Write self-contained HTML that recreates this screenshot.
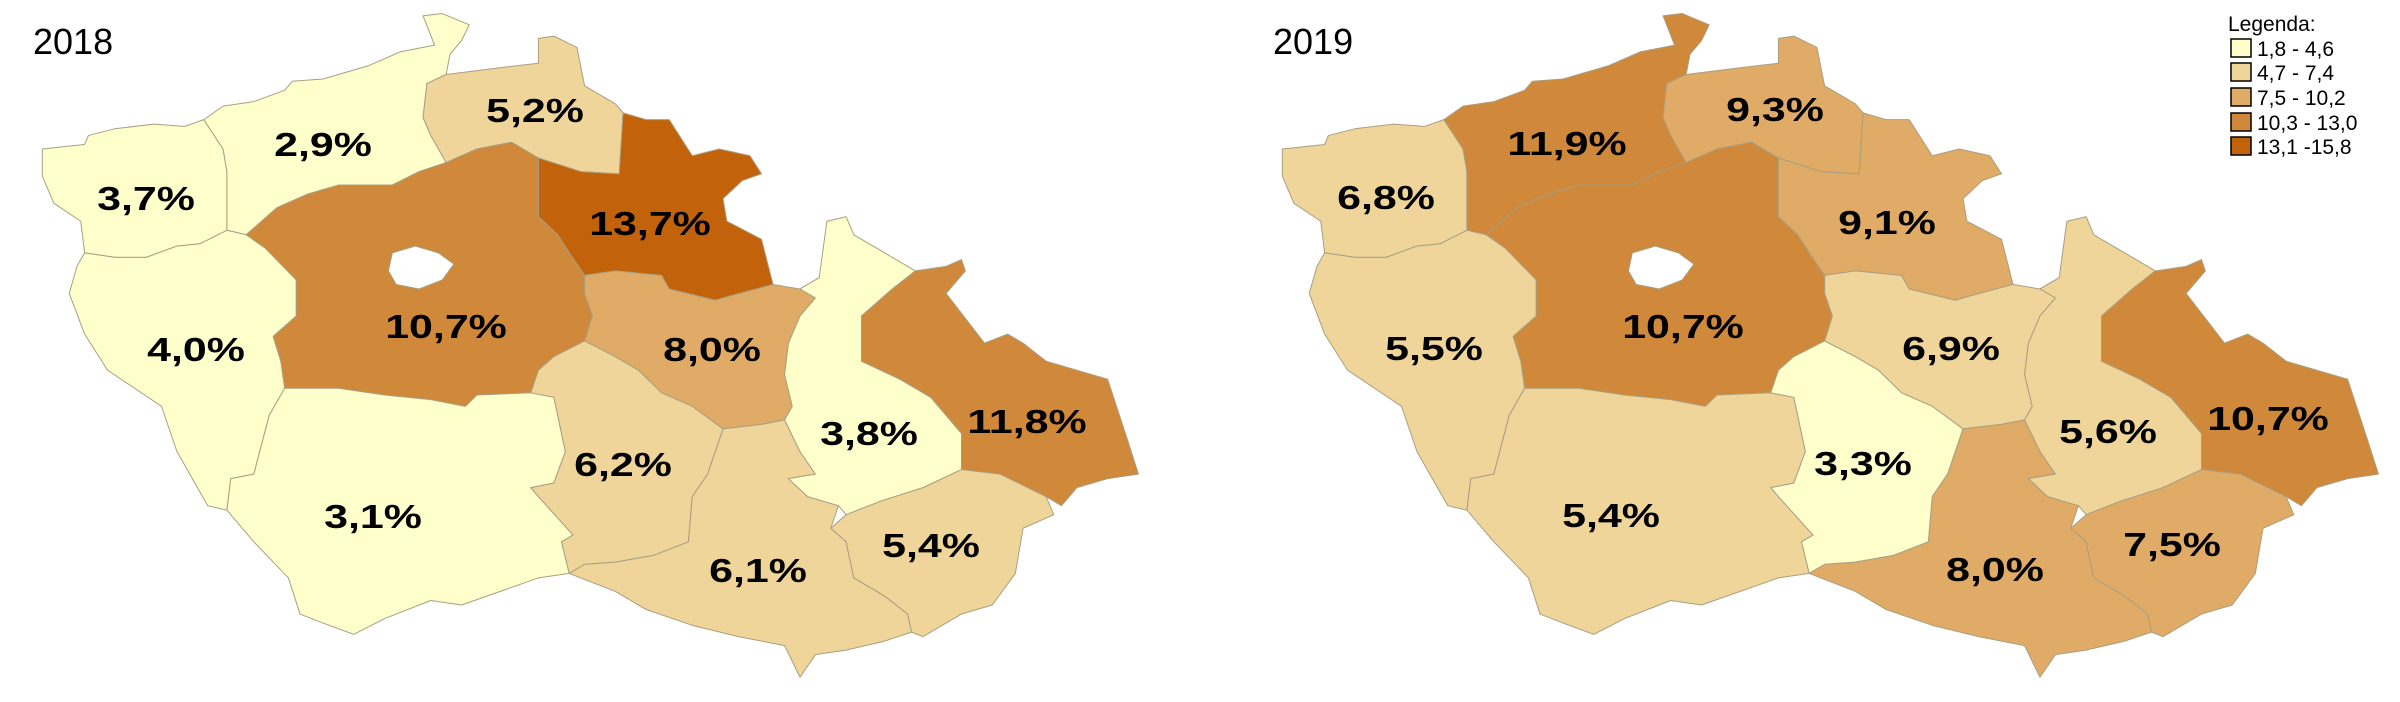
<!DOCTYPE html>
<html><head><meta charset="utf-8"><style>
html,body{margin:0;padding:0;background:#fff;}
svg{display:block;}
.l{font-family:"Liberation Sans",Arial,sans-serif;font-weight:bold;font-size:33px;fill:#000;text-anchor:middle;dominant-baseline:central;}
.t{font-family:"Liberation Sans",Arial,sans-serif;font-size:36px;fill:#000;}
.g{font-family:"Liberation Sans",Arial,sans-serif;font-size:21px;fill:#000;}
path,polygon{stroke:#a89f80;stroke-width:1;vector-effect:non-scaling-stroke;stroke-linejoin:round;}
</style></head><body>
<svg width="2400" height="702" viewBox="0 0 2400 702" xmlns="http://www.w3.org/2000/svg">
<defs>
<g id="kv"><polygon points="55,330 110,320 115,300 150,285 200,275 240,280 265,265 290,330 295,380 295,510 260,540 230,545 190,570 150,570 110,560 105,490 70,450 55,390"/></g>
<g id="us"><polygon points="265,265 290,235 330,225 370,200 380,180 420,175 480,145 520,115 565,100 550,35 575,30 610,55 600,90 585,120 580,165 555,185 550,260 560,300 580,360 545,380 510,410 440,410 400,430 360,460 320,520 295,510 295,380 290,330"/></g>
<g id="lb"><polygon points="555,185 580,165 650,150 700,140 700,85 720,80 750,105 760,190 800,230 810,250 805,385 755,380 700,350 665,315 620,330 580,360 560,300 550,260"/></g>
<g id="hk"><polygon points="810,250 840,265 870,265 900,345 935,330 975,345 990,385 965,400 940,440 945,490 990,530 1005,630 950,655 930,665 870,640 860,610 800,600 760,610 740,560 725,520 700,480 700,350 755,380 805,385"/></g>
<g id="pa"><polygon points="760,610 800,600 860,610 870,640 930,665 950,655 1005,630 1040,640 1065,615 1060,660 1040,700 1025,760 1020,830 1030,900 1020,930 990,940 940,950 900,900 860,870 830,820 800,790 760,755 770,700 760,650"/></g>
<g id="sc"><path fill-rule="evenodd" d="M320,520 L360,460 400,430 440,410 510,410 545,380 580,360 620,330 665,315 700,350 700,480 725,520 740,560 760,610 760,650 770,700 760,755 720,790 700,820 690,870 620,875 605,900 560,885 500,875 440,860 370,860 365,800 355,745 385,700 385,620 345,550 Z M510,560 L540,545 570,560 590,585 575,620 545,640 515,630 505,600 Z"/></g>
<g id="pl"><polygon points="110,560 150,570 190,570 230,545 260,540 295,510 320,520 345,550 385,620 385,700 355,745 365,800 370,860 350,920 330,1050 300,1060 295,1130 270,1120 230,1000 210,900 140,820 110,740 90,650 100,590"/></g>
<g id="jc"><polygon points="370,860 440,860 500,875 560,885 605,900 620,875 690,870 720,880 735,1000 720,1070 690,1080 700,1100 745,1185 730,1200 740,1270 700,1280 600,1340 560,1330 500,1370 460,1405 420,1380 390,1360 375,1280 330,1200 295,1130 300,1060 330,1050 350,920"/></g>
<g id="vy"><polygon points="690,870 700,820 720,790 760,755 800,790 830,820 860,870 900,900 940,950 920,1050 900,1100 895,1200 850,1230 800,1245 760,1250 740,1270 730,1200 745,1185 700,1100 690,1080 720,1070 735,1000 720,880"/></g>
<g id="jm"><polygon points="940,950 990,940 1020,930 1040,1000 1060,1050 1025,1060 1050,1100 1090,1120 1080,1170 1100,1200 1110,1280 1150,1320 1180,1360 1185,1400 1150,1420 1100,1440 1060,1450 1040,1500 1020,1430 960,1410 900,1385 840,1350 800,1310 740,1270 760,1250 800,1245 850,1230 895,1200 900,1100 920,1050"/></g>
<g id="ol"><polygon points="1040,640 1065,615 1075,490 1100,480 1110,520 1150,560 1190,600 1160,640 1120,700 1120,800 1170,840 1210,880 1250,960 1250,1040 1200,1080 1145,1110 1100,1140 1090,1120 1050,1100 1025,1060 1060,1050 1040,1000 1020,930 1030,900 1020,830 1025,760 1040,700 1060,660"/></g>
<g id="ms"><polygon points="1160,640 1190,600 1230,590 1250,575 1255,600 1230,650 1280,760 1310,740 1330,760 1360,800 1420,830 1440,840 1465,970 1480,1050 1440,1060 1400,1080 1380,1120 1360,1100 1300,1050 1250,1040 1250,960 1210,880 1170,840 1120,800 1120,700"/></g>
<g id="zl"><polygon points="1100,1140 1145,1110 1200,1080 1250,1040 1300,1050 1360,1100 1370,1140 1330,1170 1320,1270 1290,1340 1250,1360 1200,1410 1185,1400 1180,1360 1150,1320 1110,1280 1100,1200 1080,1170"/></g>
</defs>
<g transform="scale(0.7692,0.4515)">
<use href="#kv" fill="#FFFFCC"/><use href="#us" fill="#FFFFCC"/><use href="#lb" fill="#EFD59A"/>
<use href="#hk" fill="#C2620A"/><use href="#pa" fill="#E0AB66"/><use href="#sc" fill="#D0883A"/>
<use href="#pl" fill="#FFFFCC"/><use href="#jc" fill="#FFFFCC"/><use href="#vy" fill="#EFD59A"/>
<use href="#jm" fill="#EFD59A"/><use href="#ol" fill="#FFFFCC"/><use href="#ms" fill="#D0883A"/>
<use href="#zl" fill="#EFD59A"/>
</g>
<g transform="translate(1240,0) scale(0.7692,0.4515)">
<use href="#kv" fill="#EFD59A"/><use href="#us" fill="#D0883A"/><use href="#lb" fill="#E0AB66"/>
<use href="#hk" fill="#E0AB66"/><use href="#pa" fill="#EFD59A"/><use href="#sc" fill="#D0883A"/>
<use href="#pl" fill="#EFD59A"/><use href="#jc" fill="#EFD59A"/><use href="#vy" fill="#FFFFCC"/>
<use href="#jm" fill="#E0AB66"/><use href="#ol" fill="#EFD59A"/><use href="#ms" fill="#D0883A"/>
<use href="#zl" fill="#E0AB66"/>
</g>
<text class="t" x="33" y="54">2018</text>
<text class="t" x="1273" y="54">2019</text>
<g class="l">
<text class="l" transform="translate(146,199) scale(1.3,1)">3,7%</text>
<text class="l" transform="translate(323,145) scale(1.3,1)">2,9%</text>
<text class="l" transform="translate(535,111) scale(1.3,1)">5,2%</text>
<text class="l" transform="translate(650,224) scale(1.3,1)">13,7%</text>
<text class="l" transform="translate(446,327) scale(1.3,1)">10,7%</text>
<text class="l" transform="translate(196,350) scale(1.3,1)">4,0%</text>
<text class="l" transform="translate(712,350) scale(1.3,1)">8,0%</text>
<text class="l" transform="translate(869,434) scale(1.3,1)">3,8%</text>
<text class="l" transform="translate(1027,422) scale(1.3,1)">11,8%</text>
<text class="l" transform="translate(623,465) scale(1.3,1)">6,2%</text>
<text class="l" transform="translate(373,517) scale(1.3,1)">3,1%</text>
<text class="l" transform="translate(758,571) scale(1.3,1)">6,1%</text>
<text class="l" transform="translate(931,546) scale(1.3,1)">5,4%</text>
<text class="l" transform="translate(1567,144) scale(1.3,1)">11,9%</text>
<text class="l" transform="translate(1775,110) scale(1.3,1)">9,3%</text>
<text class="l" transform="translate(1386,198) scale(1.3,1)">6,8%</text>
<text class="l" transform="translate(1887,223) scale(1.3,1)">9,1%</text>
<text class="l" transform="translate(1683,327) scale(1.3,1)">10,7%</text>
<text class="l" transform="translate(1434,349) scale(1.3,1)">5,5%</text>
<text class="l" transform="translate(1951,349) scale(1.3,1)">6,9%</text>
<text class="l" transform="translate(2108,432) scale(1.3,1)">5,6%</text>
<text class="l" transform="translate(2268,419) scale(1.3,1)">10,7%</text>
<text class="l" transform="translate(1863,464) scale(1.3,1)">3,3%</text>
<text class="l" transform="translate(1611,516) scale(1.3,1)">5,4%</text>
<text class="l" transform="translate(1995,570) scale(1.3,1)">8,0%</text>
<text class="l" transform="translate(2172,545) scale(1.3,1)">7,5%</text>
</g>
<text class="g" x="2228" y="31">Legenda:</text>
<g stroke="#000" stroke-width="1.5">
<rect x="2231" y="39" width="20" height="18" fill="#FFFFCC"/>
<rect x="2231" y="63" width="20" height="18" fill="#EFD59A"/>
<rect x="2231" y="88" width="20" height="18" fill="#E0AB66"/>
<rect x="2231" y="113" width="20" height="18" fill="#D0883A"/>
<rect x="2231" y="137" width="20" height="18" fill="#C2620A"/>
</g>
<text class="g" x="2257" y="56">1,8 - 4,6</text>
<text class="g" x="2257" y="80">4,7 - 7,4</text>
<text class="g" x="2257" y="105">7,5 - 10,2</text>
<text class="g" x="2257" y="130">10,3 - 13,0</text>
<text class="g" x="2257" y="154">13,1 -15,8</text>
</svg>
</body></html>
